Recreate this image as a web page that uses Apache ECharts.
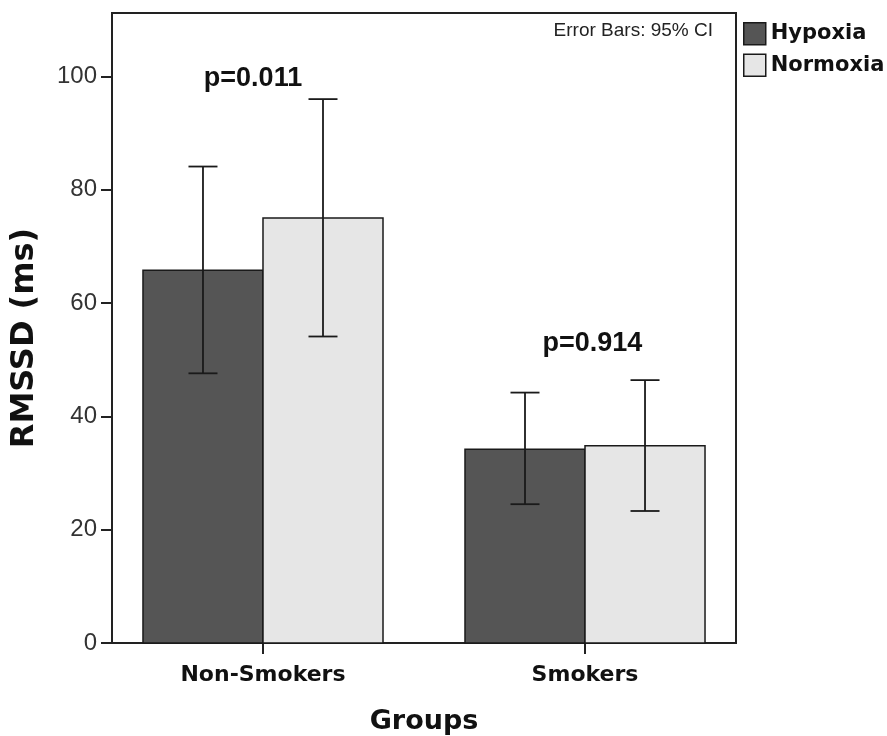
<!DOCTYPE html>
<html>
<head>
<meta charset="utf-8">
<script src="https://cdn.jsdelivr.net/npm/echarts@6/dist/echarts.min.js"></script>
<style>html,body{margin:0;padding:0;background:#fff;}#c{width:887px;height:736px;}</style>
</head>
<body>
<div id="c"></div>
<script>
// ---- data ----
const categories = ['Non-Smokers', 'Smokers'];
const seriesNames = ['Hypoxia', 'Normoxia'];
const hypoxiaMean = [65.8, 34.2];
const hypoxiaLow = [47.6, 24.5];
const hypoxiaHigh = [84.1, 44.2];
const normoxiaMean = [75.0, 34.8];
const normoxiaLow = [54.1, 23.3];
const normoxiaHigh = [96.0, 46.4];
const yTicks = [0, 20, 40, 60, 80, 100];
const pLabels = ['p=0.011', 'p=0.914'];
const pLabelX = [0.969, 2.023];
const pLabelY = [99.6, 52.8];

// ---- layout / style ----
const BW = 0.3727;          // bar width in category units
const catPos = categories.map((c, i) => i + 1);
const colors = ['#555555', '#e6e6e6'];

function barRender(params, api) {
  const c = api.value(0), v = api.value(1), side = api.value(2);
  const a = api.coord([side < 0 ? c - BW : c, 0]);
  const b = api.coord([side < 0 ? c : c + BW, v]);
  return {
    type: 'rect',
    shape: { x: a[0], y: b[1], width: b[0] - a[0], height: a[1] - b[1] },
    style: { fill: api.visual('color'), stroke: '#1a1a1a', lineWidth: 1.5 }
  };
}
function errRender(params, api) {
  const x = api.value(0), lo = api.value(1), hi = api.value(2);
  const pl = api.coord([x, lo]), ph = api.coord([x, hi]);
  const hw = 14.5;
  const st = { stroke: '#1a1a1a', lineWidth: 1.8 };
  return {
    type: 'group',
    children: [
      { type: 'line', shape: { x1: pl[0], y1: pl[1], x2: ph[0], y2: ph[1] }, style: st },
      { type: 'line', shape: { x1: pl[0] - hw, y1: pl[1], x2: pl[0] + hw, y2: pl[1] }, style: st },
      { type: 'line', shape: { x1: ph[0] - hw, y1: ph[1], x2: ph[0] + hw, y2: ph[1] }, style: st }
    ]
  };
}

const chart = echarts.init(document.getElementById('c'), null, { renderer: 'canvas' });
chart.setOption({
  backgroundColor: '#ffffff',
  animation: false,
  grid: { left: 112, top: 13, right: 151, bottom: 93, outerBoundsMode: 'none', containLabel: false, show: true, borderColor: '#222', borderWidth: 2, backgroundColor: 'transparent' },
  legend: {
    data: seriesNames,
    orient: 'vertical',
    left: 738, top: 17,
    itemWidth: 22, itemHeight: 22, itemGap: 8,
    icon: 'rect',
    itemStyle: { borderColor: '#1a1a1a', borderWidth: 1.5 },
    textStyle: { fontFamily: 'DejaVu Sans', fontWeight: 'bold', fontSize: 21, color: '#111', padding: [0, 0, 0, 0] }
  },
  graphic: [{
    type: 'text', right: 174, top: 21,
    style: { text: 'Error Bars: 95% CI', fontFamily: 'Liberation Sans', fontSize: 19, fill: '#222' }
  }],
  xAxis: {
    type: 'value',
    min: 0.5311, max: 2.4689,
    splitLine: { show: false },
    axisLine: { show: true, lineStyle: { color: '#222', width: 2 } },
    axisTick: { show: true, inside: false, length: 11, customValues: catPos, lineStyle: { color: '#222', width: 2 } },
    axisLabel: {
      customValues: catPos, margin: 21,
      formatter: v => categories[Math.round(v) - 1] || '',
      fontFamily: 'DejaVu Sans', fontWeight: 'bold', fontSize: 22, color: '#111'
    },
    name: 'Groups', nameLocation: 'middle', nameGap: 65,
    nameTextStyle: { fontFamily: 'DejaVu Sans', fontWeight: 'bold', fontSize: 27, color: '#111' }
  },
  yAxis: {
    type: 'value',
    min: 0, max: 111.2,
    splitLine: { show: false },
    axisLine: { show: true, lineStyle: { color: '#222', width: 2 } },
    axisTick: { show: true, inside: false, length: 11, customValues: yTicks, lineStyle: { color: '#222', width: 2 } },
    axisLabel: { customValues: yTicks, margin: 15, fontFamily: 'Liberation Sans', fontSize: 24, color: '#333' },
    name: 'RMSSD (ms)', nameLocation: 'middle', nameGap: 71,
    nameTextStyle: { fontFamily: 'DejaVu Sans', fontWeight: 'bold', fontSize: 32, color: '#111', padding: [0, 20, 0, 0] }
  },
  series: [
    {
      name: seriesNames[0], type: 'custom', renderItem: barRender,
      itemStyle: { color: colors[0] },
      data: hypoxiaMean.map((v, i) => [catPos[i], v, -1]), z: 2
    },
    {
      name: seriesNames[1], type: 'custom', renderItem: barRender,
      itemStyle: { color: colors[1] },
      data: normoxiaMean.map((v, i) => [catPos[i], v, 1]), z: 2
    },
    {
      name: 'err-h', type: 'custom', renderItem: errRender, silent: true,
      data: hypoxiaLow.map((v, i) => [catPos[i] - BW / 2, v, hypoxiaHigh[i]]), z: 3
    },
    {
      name: 'err-n', type: 'custom', renderItem: errRender, silent: true,
      data: normoxiaLow.map((v, i) => [catPos[i] + BW / 2, v, normoxiaHigh[i]]), z: 3
    },
    {
      name: 'p', type: 'scatter', symbolSize: 0, silent: true,
      itemStyle: { opacity: 1 },
      data: pLabels.map((t, i) => ({ name: t, value: [pLabelX[i], pLabelY[i]] })),
      label: { show: true, position: 'inside', formatter: p => p.name, fontFamily: 'Liberation Sans', fontWeight: 'bold', fontSize: 27, color: '#111', opacity: 1 },
      z: 4
    }
  ]
});
</script>
</body>
</html>
